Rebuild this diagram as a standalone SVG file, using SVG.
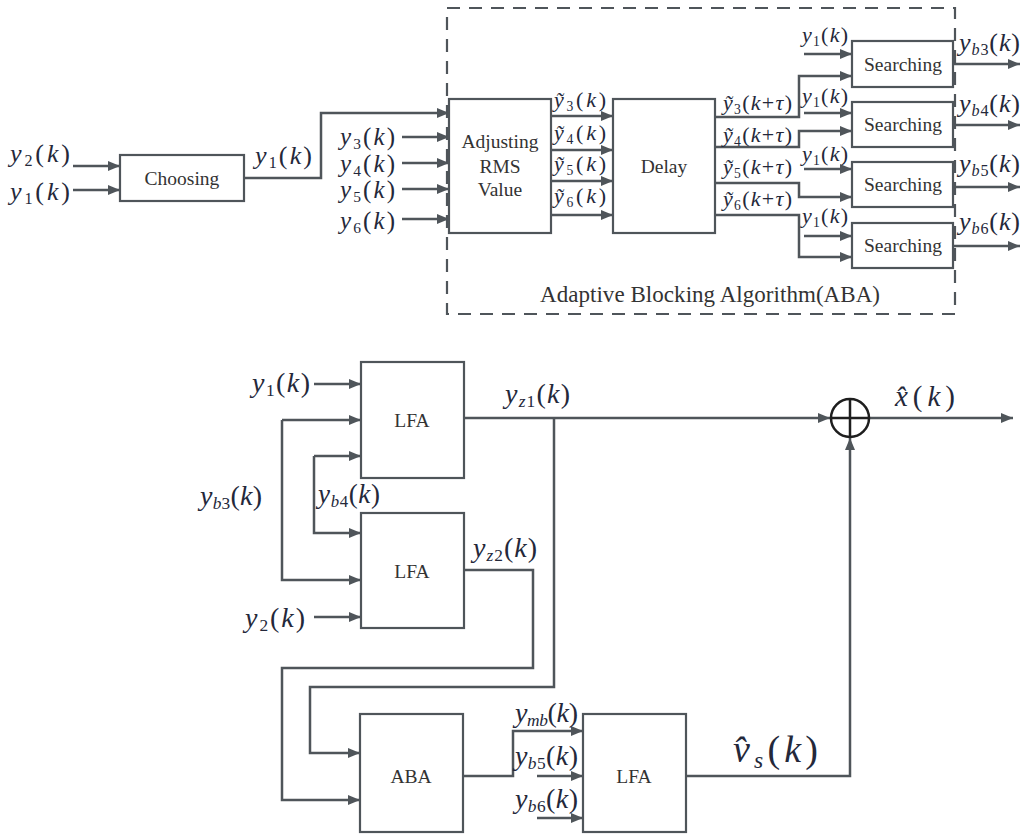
<svg xmlns="http://www.w3.org/2000/svg" width="1024" height="836" viewBox="0 0 1024 836">
<defs>
<marker id="ah" viewBox="0 0 12 10" refX="12" refY="5" markerWidth="13" markerHeight="10" markerUnits="userSpaceOnUse" orient="auto">
<path d="M0,0 L12,5 L0,10 z" fill="#4f555a"/>
</marker>
<style>
text{font-family:"Liberation Serif","Times New Roman",Times,Tinos,"Noto Serif","DejaVu Serif",FreeSerif,serif}
.box{fill:#fff;stroke:#4f555a;stroke-width:2.2}
.ar{fill:none;stroke:#4f555a;stroke-width:2.5;marker-end:url(#ah)}
.bt{font-size:19.5px;fill:#333;text-anchor:middle}
.m{fill:#24283a}
.i{font-style:italic}
.s{font-size:0.62em}
</style>
</defs>
<rect width="1024" height="836" fill="#fff"/>

<g id="aba-frame">
<rect x="447" y="8" width="508" height="306" fill="none" stroke="#4f555a" stroke-width="2.2" stroke-dasharray="13,9"/>
<text class="bt" x="710" y="302" style="font-size:23px" textLength="340" lengthAdjust="spacing">Adaptive Blocking Algorithm(ABA)</text>
</g>

<g id="connectors">
<path class="ar" d="M73,166 H120"/>
<path class="ar" d="M73,190 H120"/>
<path class="ar" d="M244,178 H321 V113 H449"/>
<path class="ar" d="M402,137 H449"/>
<path class="ar" d="M402,163 H449"/>
<path class="ar" d="M402,189 H449"/>
<path class="ar" d="M402,219 H449"/>
<path class="ar" d="M551,116 H613"/>
<path class="ar" d="M551,150 H613"/>
<path class="ar" d="M551,181 H613"/>
<path class="ar" d="M551,215 H613"/>
<path class="ar" d="M715,117 H799 V76 H852"/>
<path class="ar" d="M715,147 H799 V131 H852"/>
<path class="ar" d="M715,183 H799 V197 H852"/>
<path class="ar" d="M715,215 H799 V257 H852"/>
<path class="ar" d="M804,54 H852"/>
<path class="ar" d="M804,113 H852"/>
<path class="ar" d="M804,169 H852"/>
<path class="ar" d="M804,236 H852"/>
<path class="ar" d="M954,64 H1020"/>
<path class="ar" d="M954,125 H1020"/>
<path class="ar" d="M954,187 H1020"/>
<path class="ar" d="M954,246 H1020"/>

<path class="ar" d="M314,384 H361"/>
<path class="ar" d="M282,420 H361"/>
<path class="ar" d="M282,420 V580 H361"/>
<path class="ar" d="M314,456 H361"/>
<path class="ar" d="M314,456 V533 H361"/>
<path class="ar" d="M314,617 H361"/>
<path class="ar" d="M464,418 H830"/>
<path class="ar" d="M554,418 V687 H310 V753 H360"/>
<path class="ar" d="M464,570 H533 V668 H282 V800 H360"/>
<path class="ar" d="M463,776 H513 V731 H583"/>
<path class="ar" d="M537,776 H583"/>
<path class="ar" d="M537,818 H583"/>
<path class="ar" d="M686,776 H850 V438"/>
<path class="ar" d="M870,418 H1013"/>
</g>

<g id="choosing"><rect class="box" x="120" y="155" width="124" height="46"/><text class="bt" x="182" y="185">Choosing</text></g>
<g id="adjusting"><rect class="box" x="449" y="99" width="102" height="134"/>
<text class="bt" x="500" y="148">Adjusting</text><text class="bt" x="500" y="173">RMS</text><text class="bt" x="500" y="196">Value</text></g>
<g id="delay"><rect class="box" x="613" y="99" width="102" height="134"/><text class="bt" x="664" y="173">Delay</text></g>
<g id="searching1"><rect class="box" x="852" y="41" width="101" height="46"/><text class="bt" x="903" y="71">Searching</text></g>
<g id="searching2"><rect class="box" x="852" y="102" width="101" height="45"/><text class="bt" x="903" y="131">Searching</text></g>
<g id="searching3"><rect class="box" x="852" y="162" width="101" height="45"/><text class="bt" x="903" y="191">Searching</text></g>
<g id="searching4"><rect class="box" x="852" y="223" width="101" height="45"/><text class="bt" x="903" y="252">Searching</text></g>

<g id="lfa1"><rect class="box" x="361" y="362" width="103" height="116"/><text class="bt" x="412" y="427">LFA</text></g>
<g id="lfa2"><rect class="box" x="361" y="513" width="103" height="115"/><text class="bt" x="412" y="578">LFA</text></g>
<g id="aba"><rect class="box" x="360" y="714" width="103" height="118"/><text class="bt" x="411" y="783">ABA</text></g>
<g id="lfa3"><rect class="box" x="583" y="714" width="103" height="118"/><text class="bt" x="634" y="783">LFA</text></g>
<g id="sum"><circle cx="850" cy="418" r="19" fill="#fff" stroke="#1e1e1e" stroke-width="2.5"/><path d="M831,418 H869 M850,399 V437" stroke="#1e1e1e" stroke-width="2.5"/></g>

<g id="labels">
<text class="m" x="10" y="162" font-size="26" textLength="60" lengthAdjust="spacing"><tspan class="i">y</tspan><tspan class="s" dy="4">2</tspan><tspan dy="-4">(</tspan><tspan class="i">k</tspan>)</text>
<text class="m" x="10" y="200" font-size="26" textLength="60" lengthAdjust="spacing"><tspan class="i">y</tspan><tspan class="s" dy="4">1</tspan><tspan dy="-4">(</tspan><tspan class="i">k</tspan>)</text>
<text class="m" x="255" y="164" font-size="26" textLength="57" lengthAdjust="spacing"><tspan class="i">y</tspan><tspan class="s" dy="4">1</tspan><tspan dy="-4">(</tspan><tspan class="i">k</tspan>)</text>
<text class="m" x="340" y="145" font-size="25" textLength="55" lengthAdjust="spacing"><tspan class="i">y</tspan><tspan class="s" dy="4">3</tspan><tspan dy="-4">(</tspan><tspan class="i">k</tspan>)</text>
<text class="m" x="340" y="172" font-size="25" textLength="55" lengthAdjust="spacing"><tspan class="i">y</tspan><tspan class="s" dy="4">4</tspan><tspan dy="-4">(</tspan><tspan class="i">k</tspan>)</text>
<text class="m" x="340" y="198" font-size="25" textLength="55" lengthAdjust="spacing"><tspan class="i">y</tspan><tspan class="s" dy="4">5</tspan><tspan dy="-4">(</tspan><tspan class="i">k</tspan>)</text>
<text class="m" x="340" y="229" font-size="25" textLength="55" lengthAdjust="spacing"><tspan class="i">y</tspan><tspan class="s" dy="4">6</tspan><tspan dy="-4">(</tspan><tspan class="i">k</tspan>)</text>

<text class="m" x="554" y="107" font-size="22" textLength="52" lengthAdjust="spacing"><tspan class="i">ỹ</tspan><tspan class="s" dy="4">3</tspan><tspan dy="-4">(</tspan><tspan class="i">k</tspan>)</text>
<text class="m" x="554" y="140" font-size="22" textLength="52" lengthAdjust="spacing"><tspan class="i">ỹ</tspan><tspan class="s" dy="4">4</tspan><tspan dy="-4">(</tspan><tspan class="i">k</tspan>)</text>
<text class="m" x="554" y="171" font-size="22" textLength="52" lengthAdjust="spacing"><tspan class="i">ỹ</tspan><tspan class="s" dy="4">5</tspan><tspan dy="-4">(</tspan><tspan class="i">k</tspan>)</text>
<text class="m" x="554" y="203" font-size="22" textLength="52" lengthAdjust="spacing"><tspan class="i">ỹ</tspan><tspan class="s" dy="4">6</tspan><tspan dy="-4">(</tspan><tspan class="i">k</tspan>)</text>

<text class="m" x="723" y="110" font-size="22" textLength="69" lengthAdjust="spacing"><tspan class="i">ỹ</tspan><tspan class="s" dy="4">3</tspan><tspan dy="-4">(</tspan><tspan class="i">k</tspan>+<tspan class="i">τ</tspan>)</text>
<text class="m" x="723" y="142" font-size="22" textLength="69" lengthAdjust="spacing"><tspan class="i">ỹ</tspan><tspan class="s" dy="4">4</tspan><tspan dy="-4">(</tspan><tspan class="i">k</tspan>+<tspan class="i">τ</tspan>)</text>
<text class="m" x="723" y="174" font-size="22" textLength="69" lengthAdjust="spacing"><tspan class="i">ỹ</tspan><tspan class="s" dy="4">5</tspan><tspan dy="-4">(</tspan><tspan class="i">k</tspan>+<tspan class="i">τ</tspan>)</text>
<text class="m" x="723" y="206" font-size="22" textLength="69" lengthAdjust="spacing"><tspan class="i">ỹ</tspan><tspan class="s" dy="4">6</tspan><tspan dy="-4">(</tspan><tspan class="i">k</tspan>+<tspan class="i">τ</tspan>)</text>

<text class="m" x="802" y="42" font-size="22" textLength="46" lengthAdjust="spacing"><tspan class="i">y</tspan><tspan class="s" dy="4">1</tspan><tspan dy="-4">(</tspan><tspan class="i">k</tspan>)</text>
<text class="m" x="802" y="103" font-size="22" textLength="46" lengthAdjust="spacing"><tspan class="i">y</tspan><tspan class="s" dy="4">1</tspan><tspan dy="-4">(</tspan><tspan class="i">k</tspan>)</text>
<text class="m" x="802" y="161" font-size="22" textLength="46" lengthAdjust="spacing"><tspan class="i">y</tspan><tspan class="s" dy="4">1</tspan><tspan dy="-4">(</tspan><tspan class="i">k</tspan>)</text>
<text class="m" x="802" y="223" font-size="22" textLength="46" lengthAdjust="spacing"><tspan class="i">y</tspan><tspan class="s" dy="4">1</tspan><tspan dy="-4">(</tspan><tspan class="i">k</tspan>)</text>

<text class="m" x="959" y="51" font-size="26" textLength="61" lengthAdjust="spacing"><tspan class="i">y</tspan><tspan class="s i" dy="4">b</tspan><tspan class="s">3</tspan><tspan dy="-4">(</tspan><tspan class="i">k</tspan>)</text>
<text class="m" x="959" y="112" font-size="26" textLength="61" lengthAdjust="spacing"><tspan class="i">y</tspan><tspan class="s i" dy="4">b</tspan><tspan class="s">4</tspan><tspan dy="-4">(</tspan><tspan class="i">k</tspan>)</text>
<text class="m" x="959" y="172" font-size="26" textLength="61" lengthAdjust="spacing"><tspan class="i">y</tspan><tspan class="s i" dy="4">b</tspan><tspan class="s">5</tspan><tspan dy="-4">(</tspan><tspan class="i">k</tspan>)</text>
<text class="m" x="959" y="230" font-size="26" textLength="61" lengthAdjust="spacing"><tspan class="i">y</tspan><tspan class="s i" dy="4">b</tspan><tspan class="s">6</tspan><tspan dy="-4">(</tspan><tspan class="i">k</tspan>)</text>

<text class="m" x="252" y="392" font-size="28" textLength="58" lengthAdjust="spacing"><tspan class="i">y</tspan><tspan class="s" dy="4">1</tspan><tspan dy="-4">(</tspan><tspan class="i">k</tspan>)</text>
<text class="m" x="505" y="403" font-size="28" textLength="65" lengthAdjust="spacing"><tspan class="i">y</tspan><tspan class="s i" dy="4">z</tspan><tspan class="s">1</tspan><tspan dy="-4">(</tspan><tspan class="i">k</tspan>)</text>
<text class="m" x="200" y="505" font-size="28" textLength="62" lengthAdjust="spacing"><tspan class="i">y</tspan><tspan class="s i" dy="4">b</tspan><tspan class="s">3</tspan><tspan dy="-4">(</tspan><tspan class="i">k</tspan>)</text>
<text class="m" x="318" y="503" font-size="27" textLength="62" lengthAdjust="spacing"><tspan class="i">y</tspan><tspan class="s i" dy="4">b</tspan><tspan class="s">4</tspan><tspan dy="-4">(</tspan><tspan class="i">k</tspan>)</text>
<text class="m" x="473" y="557" font-size="28" textLength="64" lengthAdjust="spacing"><tspan class="i">y</tspan><tspan class="s i" dy="4">z</tspan><tspan class="s">2</tspan><tspan dy="-4">(</tspan><tspan class="i">k</tspan>)</text>
<text class="m" x="245" y="627" font-size="28" textLength="60" lengthAdjust="spacing"><tspan class="i">y</tspan><tspan class="s" dy="4">2</tspan><tspan dy="-4">(</tspan><tspan class="i">k</tspan>)</text>
<text class="m" x="895" y="406" font-size="29" textLength="60" lengthAdjust="spacing"><tspan class="i">x̂</tspan>(<tspan class="i">k</tspan>)</text>
<text class="m" x="515" y="722" font-size="28" textLength="63" lengthAdjust="spacing"><tspan class="i">y</tspan><tspan class="s i" dy="4">mb</tspan><tspan dy="-4">(</tspan><tspan class="i">k</tspan>)</text>
<text class="m" x="515" y="765" font-size="28" textLength="63" lengthAdjust="spacing"><tspan class="i">y</tspan><tspan class="s i" dy="4">b</tspan><tspan class="s">5</tspan><tspan dy="-4">(</tspan><tspan class="i">k</tspan>)</text>
<text class="m" x="515" y="808" font-size="28" textLength="63" lengthAdjust="spacing"><tspan class="i">y</tspan><tspan class="s i" dy="4">b</tspan><tspan class="s">6</tspan><tspan dy="-4">(</tspan><tspan class="i">k</tspan>)</text>
<text class="m" x="733" y="762" font-size="38" textLength="85" lengthAdjust="spacing"><tspan class="i">v̂</tspan><tspan class="s i" dy="6">s</tspan><tspan dy="-6">(</tspan><tspan class="i">k</tspan>)</text>
</g>
</svg>
